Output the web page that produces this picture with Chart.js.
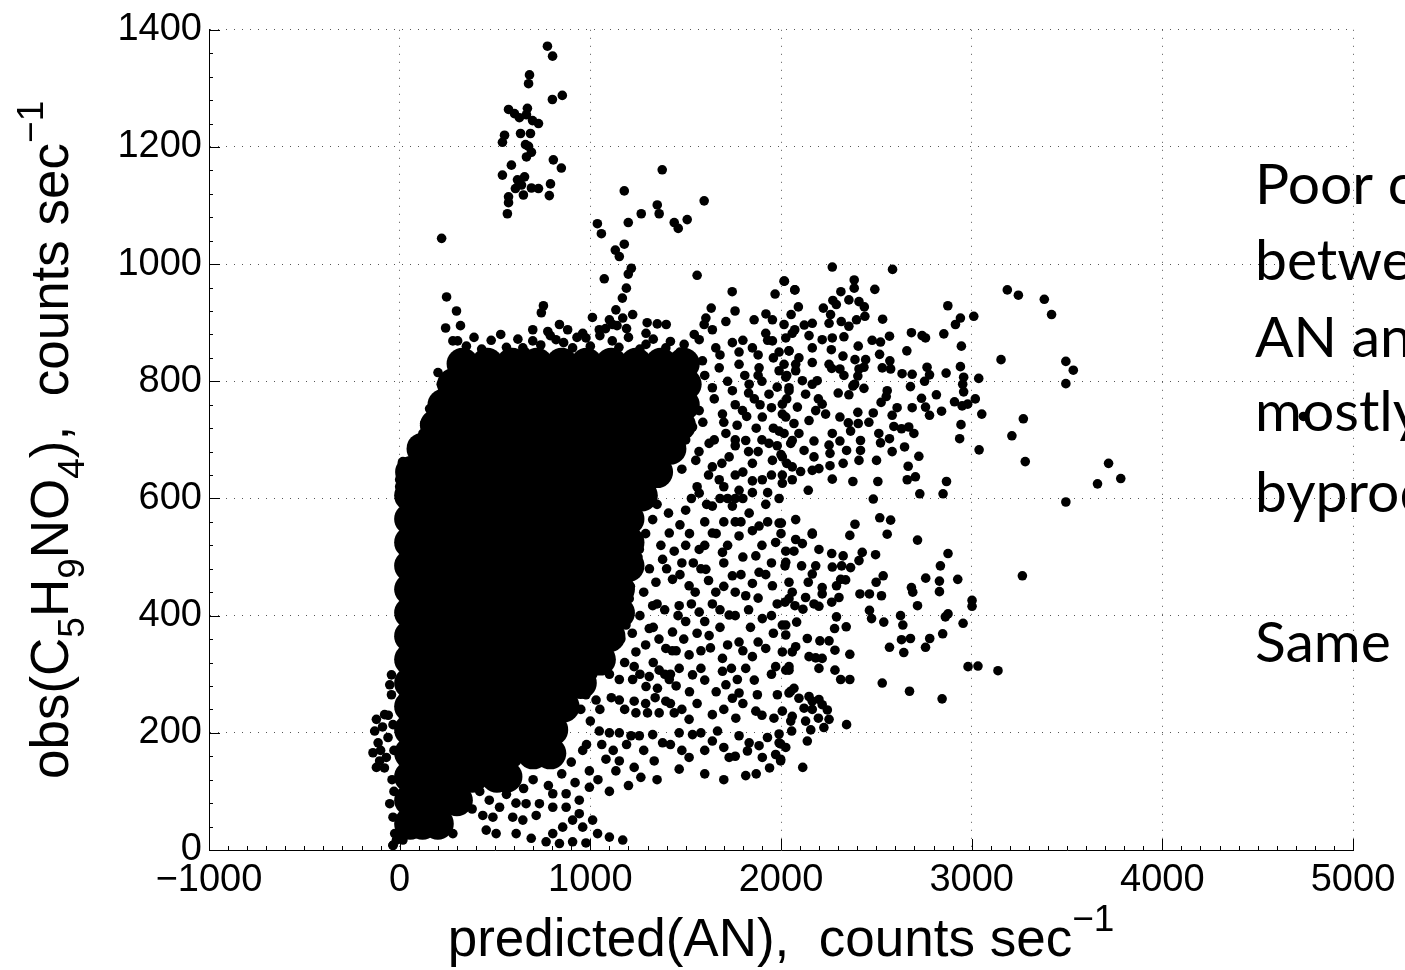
<!DOCTYPE html>
<html>
<head>
<meta charset="utf-8">
<script src="https://cdn.jsdelivr.net/npm/chart.js@4.4.1/dist/chart.umd.min.js"></script>
<style>
  html, body { margin: 0; padding: 0; background: #fff; overflow: hidden; }
  canvas { display: block; }
</style>
</head>
<body>
<canvas id="scatter" width="1405" height="970"></canvas>
<script>
// axis ticks
const xTicks = [-1000, 0, 1000, 2000, 3000, 4000, 5000];
const yTicks = [0, 200, 400, 600, 800, 1000, 1200, 1400];

// the solid black core, read row by row (obs level -> predicted values along it)
const coreLevels = [830, 795, 760, 725, 685, 645, 605, 565, 525, 485, 445, 405, 365, 325, 285, 245, 205, 165, 125, 85, 45];
const coreX = [
  [330, 460, 590, 720, 850, 980, 1110, 1240, 1370, 1490],
  [280, 410, 540, 670, 800, 930, 1060, 1190, 1320, 1450, 1500],
  [230, 360, 490, 620, 750, 880, 1010, 1140, 1270, 1400, 1490],
  [190, 300, 430, 560, 690, 820, 950, 1080, 1210, 1340, 1470],
  [120, 250, 380, 510, 640, 770, 900, 1030, 1160, 1290, 1420],
  [60, 180, 310, 440, 570, 700, 830, 960, 1090, 1220, 1350],
  [55, 130, 260, 390, 520, 650, 780, 910, 1040, 1170, 1270],
  [55, 180, 310, 440, 570, 700, 830, 960, 1090, 1200],
  [55, 120, 250, 380, 510, 640, 770, 900, 1030, 1160, 1200],
  [55, 180, 310, 440, 570, 700, 830, 960, 1090, 1200],
  [55, 120, 250, 380, 510, 640, 770, 900, 1030, 1150],
  [55, 180, 310, 440, 570, 700, 830, 960, 1090, 1150],
  [55, 120, 250, 380, 510, 640, 770, 900, 1030, 1100],
  [55, 180, 310, 440, 570, 700, 830, 960, 1050],
  [55, 120, 250, 380, 510, 640, 770, 900, 950],
  [55, 180, 310, 440, 570, 700, 830, 860],
  [55, 120, 250, 380, 510, 640, 770, 800],
  [55, 180, 310, 440, 570, 700, 790],
  [55, 120, 250, 380, 510, 560],
  [55, 180, 300],
  [55, 120, 200]
];

// group of high observations above 1000
const highGroup = [[775,1372],[802,1355],[681,1323],[676,1308],[801,1281],[853,1288],[571,1264],[602,1257],[628,1250],[670,1266],[665,1255],[697,1245],[728,1240],[550,1220],[539,1208],[634,1223],[686,1223],[660,1204],[676,1201],[691,1191],[665,1183],[806,1178],[848,1164],[586,1169],[539,1152],[618,1144],[655,1149],[639,1135],[607,1129],[691,1130],[728,1129],[649,1118],[791,1137],[785,1117],[571,1115],[571,1105],[565,1086],[220,1044]];

// strays above the core and its ragged edges
const upperStray = [[1377,1161],[1178,1125],[1597,1108],[1351,1101],[1361,1086],[1267,1086],[1199,1071],[1037,1069],[1058,1052],[1440,1071],[1461,1061],[1508,1076],[1178,1034],[1131,1024],[1152,1013],[1215,993],[1199,983],[1073,975],[1560,981],[1744,953],[2016,971],[2073,956],[1969,949],[1634,925],[1759,920],[1189,959],[1168,942],[246,944],[298,920],[241,891],[319,895],[754,929],[743,917],[838,897],[1011,909],[1298,900],[1351,898],[1398,897],[1859,905],[1921,915],[698,888],[777,885],[881,888],[960,882],[1047,888],[1117,897],[1170,908],[1134,922],[1222,914],[1292,882],[1545,880],[1597,897],[1640,888],[1920,882],[2016,897],[2059,882],[1606,908],[1711,902],[1955,905],[1100,905],[1140,895],[1190,890],[1080,890],[279,869],[304,869],[402,838],[515,835],[602,826],[646,857],[698,869],[820,871],[907,857],[977,874],[1115,869],[1292,863],[1396,857],[201,815],[218,795],[157,753],[131,728],[122,711],[87,682],[17,663],[61,648],[0,632],[14,661],[52,646],[17,637],[0,620],
  [350,860],[390,875],[430,855],[480,870],[530,880],[560,858],[620,872],[660,850],[740,862],[790,878],[860,866],[930,875],[1000,860],[1050,878],[1150,858],[1200,875],[1260,855],[1330,872],[1420,868],[1470,850]];

// upper arm, 600-1000 obs
const upperArm = [[1492,863],[1571,871],[1658,857],[1745,866],[1850,857],[1955,869],[2042,852],[1588,835],[1676,823],[1780,829],[1885,823],[1990,818],[2077,829],[1536,795],[1640,789],[1745,784],[1833,795],[1937,778],[2042,789],[1571,750],[1693,744],[1798,750],[1902,739],[2007,744],[1711,711],[1815,699],[1937,694],[2059,699],[1623,694],[1728,671],[1850,660],[1955,665],[1640,654],[1902,632],[2007,626],[1676,632],[1780,614],[1536,722],[1553,665],[1800,870],[1880,845],[1960,840],[1810,810],[1900,800],[1980,790],[1760,760],[1860,770],[1950,755],[1770,725],[1870,720],[1990,715],[1760,690],[1880,680],[2000,675],[1800,645],[1950,640],[1720,600],[1850,610],
  [1520,840],[1600,810],[1680,845],[1720,800],[1780,850],[1830,780],[1880,810],[1930,870],[1990,850],[2030,810],[1520,770],[1590,730],[1650,770],[1700,730],[1760,700],[1820,740],[1890,760],[1960,720],[2030,770],[1500,700],[1570,680],[1650,700],[1690,660],[1760,640],[1830,680],[1900,700],[1980,690],[2030,660],[1480,650],[1560,620],[1620,640],[1700,620],[1760,600],[1850,630],[1930,610],[1990,600],
  [2269,995],[2585,991],[2018,971],[2072,956],[2384,973],[2384,959],[2314,953],[2492,957],[2356,939],[2409,936],[2437,927],[2272,938],[2290,931],[2222,925],[2260,914],[2316,902],[2356,894],[2396,905],[2440,911],[2533,906],[2091,927],[2053,914],[2164,899],[2122,896],[2252,899],[2072,888],[2147,878],[2216,871],[2269,874],[2330,876],[2264,854],[2405,860],[2478,870],[2522,867],[2569,877],[2517,846],[2684,883],[2740,878],[2758,874],[2660,852],[2854,881],[2875,929],[2941,908],[2915,897],[3011,911],[2946,860],[2941,825],[2958,807],[2953,795],[3037,805],[3019,770],[2958,782],[2950,758],[2979,761],[2910,765],[3053,744],[2944,726],[2937,702],[3039,683],[3187,956],[3245,947],[3381,940],[3419,914],[3154,837],[3494,834],[3533,819],[3494,796],[3271,736],[3211,707],[3281,663],[3718,660],[3660,625],[3782,634],[3494,594],
  [2635,813],[2688,812],[2766,824],[2779,811],[2753,800],[2866,814],[2679,791],[2815,777],[2737,771],[2688,755],[2758,756],[2779,742],[2842,749],[2571,835],[2575,821],[2531,823],[2557,784],[2552,774],[2609,755],[2583,742],[2525,764],[2484,746],[2403,747],[2405,728],[2461,730],[2513,711],[2522,695],[2569,702],[2583,680],[2592,723],[2632,719],[2670,722],[2697,711],[2648,688],[2723,672],[2667,655],[2662,632],[2705,637],[2728,608],[2850,608],[2868,629],[2508,629],[2484,599],[2377,629],[2269,633],[2409,665],[2501,665],[2417,682],[2417,699],[2344,682],[2309,698],[2252,691],[2257,677],[2257,656],[2326,660],[2173,698],[2269,711],[2309,739],[2353,729],[2365,715],[2300,780],[2356,777],[2386,795],[2435,788],[2234,744],[2182,750],[2216,761],[2196,770],[2164,795],[2190,801],[2164,832],[2094,840],[2252,829],[2266,822],[2325,843],[2309,821],[2330,810],[2388,837],[2444,837],[2409,821],[2435,824],[2403,809],[2377,792],[2068,728],[2094,711],[2173,671],[2059,654],[2103,646],[2164,648],[2199,651],[2007,640],[2059,632],[2143,614],
  [2025,874],[2042,852],[2016,829],[2077,818],[2025,807],[2112,801],[2042,784],[2129,778],[2007,761],[2086,756],[2025,739],[2147,733],[2016,711],[2051,694],[2121,682],[2007,671],[2164,857]];

// lower arm, 100-600 obs
const lowerArm = [[2002,558],[2388,556],[2518,567],[2575,563],[2164,541],
  [2164,539],[2361,537],[2557,539],[2716,529],[2112,523],[2025,510],[2068,510],[2199,513],[2266,506],[2326,502],[2426,508],[2409,494],[2496,504],[2876,506],[2836,485],[2759,464],[2831,459],[2831,441],[2927,462],[3266,468],[3002,426],[3002,416],[2716,417],[2684,448],[2691,440],[2536,468],[2499,457],[2527,434],[2414,437],[2464,437],[2108,485],[2021,485],[2182,485],[2269,483],[2318,485],[2365,482],[2164,471],[2143,457],[2042,457],[2313,462],[2339,461],[2291,451],[2216,448],[2216,437],[2059,440],[2129,431],[2021,423],[2073,417],[2173,420],[2199,416],[2115,411],[2266,423],[2304,431],[2291,398],[2464,409],[2475,395],[2539,389],[2627,400],[2639,384],[2876,403],[2862,398],[2955,387],[2848,369],[2780,361],[2758,346],[2679,361],[2632,359],[2644,337],[2569,346],[2361,334],[2342,381],[2281,378],[2283,341],[2252,357],[2204,357],[2138,361],[2077,347],[2007,338],[2025,367],[2082,389],[2007,384],[2147,330],[2182,328],[2216,327],[2199,310],[2283,307],[2313,291],[2361,291],[2042,313],[2025,307],[2531,285],[2674,271],[2845,258],[2981,313],[3033,314],[3138,306],[2051,271],[2068,276],[2094,259],[2147,262],[2164,254],[2199,257],[2121,242],[2164,240],[2216,248],[2243,239],[2252,223],[2196,225],[2225,209],[2129,220],[2051,220],[2056,203],[2156,205],[2344,214],[2007,237],[2138,186],[1998,181],[2025,175],[1998,152],[2114,141],[1990,198],
  [1571,609],[1640,587],[1745,587],[1833,575],[1885,553],[1990,558],[2077,564],[1640,541],[1780,536],[1972,525],[2077,530],[1571,513],[1693,508],[1868,502],[2025,491],[1606,479],[1745,468],[1885,474],[1955,451],[1518,451],[1658,440],[1815,434],[2042,429],[1466,417],[1571,406],[1728,401],[1902,395],[2025,384],[1431,372],[1623,366],[1780,355],[1920,344],[2059,338],[1518,333],[1693,327],[1500,580],[1600,560],[1700,560],[1800,600],[1920,590],[1500,520],[1580,480],[1700,490],[1800,500],[1950,490],[1480,490],[1550,440],[1640,420],[1760,440],[1880,430],[1980,420],[1500,390],[1680,380],[1840,380],[1960,370],[1450,340],[1580,340],[1850,330],[1420,300],
  [1117,570],[1222,587],[1327,564],[1414,541],[1152,530],[1257,513],[1379,496],[1117,485],[1239,474],[1344,457],[1431,462],[1100,440],[1204,429],[1327,417],[1082,401],[1187,384],[1309,378],[1396,344],[1117,350],[1239,338],[1012,327],
  [1230,560],[1290,540],[1350,590],[1410,575],[1470,555],[1530,600],[1610,590],[1680,600],[1760,560],[1850,545],[1930,560],[1250,500],[1310,480],[1370,520],[1440,510],[1520,540],[1600,520],[1660,540],[1720,520],[1790,560],[1900,520],[2000,540],[1210,450],[1280,440],[1350,420],[1400,480],[1470,470],[1540,490],[1620,460],[1700,450],[1790,470],[1850,455],[1920,470],[1190,400],[1260,400],[1330,380],[1390,410],[1460,400],[1530,420],[1600,390],[1680,410],[1760,400],[1830,410],[1950,400],[1160,360],[1220,370],[1290,350],[1360,360],[1430,340],[1490,360],[1560,370],[1630,345],[1720,350],[1800,340],[1880,355],[1100,300],[1180,320],[1260,300],[1330,320],[1390,300],[1450,280],[1520,270],[1600,290],[1660,270],[1740,310],[1860,290],[1950,300],[1050,240],[1110,260],[1180,240],[1290,250],[1340,260],[1420,250],[1480,240],[1560,250],[1700,240],[1800,250],[1900,230],[1060,180],[1120,170],[1190,180],[1280,170],[1420,180],[1480,170],[1600,170],[1700,175],[1760,160],[1940,140],[1040,120],[1100,100],[1200,110],[1350,120],[1600,130],[1870,130],[1700,120],
  [1012,299],[1082,310],[1152,291],[1230,313],[1222,291],[1309,296],[1361,307],[1414,291],[1466,310],[1536,299],[1580,310],[1693,305],[1771,291],[1815,310],[1972,313],[2042,307],[977,265],[1030,256],[1152,256],[1230,254],[1292,279],[1352,276],[1239,234],[1300,234],[1361,234],[1440,234],[1396,254],[1518,223],[1640,231],[1711,282],[1745,259],[1780,268],[1876,265],[1981,265],[2042,268],[1868,237],[1763,225],[1963,225],[2059,228],[1047,203],[1100,200],[1152,200],[1213,195],[1257,195],[1327,197],[1379,183],[1466,200],[1536,197],[1580,200],[1640,186],[1667,203],[1780,195],[1833,183],[1885,178],[1929,192],[1990,183],[1728,158],[1824,169],[1902,158],[1972,163],[1998,155],[1518,158],[1082,155],[1152,152],[1134,135],[1230,141],[1265,124],[1466,138],[1815,127],[1335,152],[995,135],[995,107],[950,240],[1000,220],[980,180]];

// low readings near the x axis
const bottomEdge = [[1012,51],[1170,17],[1100,22],[1038,28],[960,39],[942,62],[873,73],[803,73],[716,59],[663,79],[593,56],[524,73],[489,56],[436,59],[454,34],[506,28],[611,28],[690,20],[768,14],[838,11],[907,14],[977,12],[803,28],[855,39],[907,51],[279,28],[209,31],[140,34],[70,39],[-17,17],[-35,8],[0,28],[803,96],[733,79],[873,96],[942,85],[646,51],[700,120],[780,110],[850,130],[920,115],[740,150],[900,150],[960,170],
  [340,90],[380,70],[420,100],[470,85],[560,95],[610,80],[650,105],[600,120],[520,110]];

// slightly negative predictions
const leftEdge = [[-122,223],[-79,231],[-131,203],[-113,183],[-140,166],[-105,152],[-122,141],[-61,192],[-70,158],[-35,214],[-52,79],[-35,56],[-26,28],[-35,8],[17,17],[-43,299],[-52,282],[-43,265],[-90,210],[-100,170],[-80,140],[-60,230],[-30,170],[-40,120],[-30,100]];

// one point shows through the slide text
const underText = [[4740,740]];

const noteLines = ['Poor correlation', 'between', 'AN and', 'mostly', 'byproduct', '', 'Same'];

//------------------------------------------

const corePts = [];
coreLevels.forEach((lvl, i) => coreX[i].forEach(v => corePts.push({x: v, y: lvl})));

const toPts = arr => arr.map(p => ({x: p[0], y: p[1]}));
const strayPts = [].concat(toPts(highGroup), toPts(upperStray), toPts(upperArm), toPts(lowerArm), toPts(bottomEdge), toPts(leftEdge), toPts(underText));

const tickFont = {family: "'Liberation Sans', Arial, Helvetica, sans-serif", size: 38};
const titleFamily = "'Liberation Sans', Arial, Helvetica, sans-serif";

// draws text with sub/superscripts, centred on cx along its baseline
function drawRich(ctx, runs, size, cx, base) {
  const small = Math.round(size * 0.7);
  let total = 0;
  runs.forEach(r => {
    ctx.font = (r[1] ? small : size) + 'px ' + titleFamily;
    total += ctx.measureText(r[0]).width;
  });
  let x = cx - total / 2;
  runs.forEach(r => {
    ctx.font = (r[1] ? small : size) + 'px ' + titleFamily;
    let dy = 0;
    if (r[1] === 1) dy = size * 0.3;
    if (r[1] === 2) dy = -size * 0.47;
    ctx.fillText(r[0], x, base + dy);
    x += ctx.measureText(r[0]).width;
  });
}

// inward major and minor ticks like matlab
const axisDecor = {
  id: 'axisDecor',
  afterDatasetsDraw(chart) {
    const {ctx, chartArea: a, scales: {x, y}} = chart;
    ctx.save();
    ctx.strokeStyle = '#000';
    ctx.lineWidth = 1;
    ctx.beginPath();
    for (let v = -1000; v <= 5000; v += 100) {
      const px = Math.round(x.getPixelForValue(v)) + 0.5;
      const len = v % 1000 === 0 ? 11 : 4;
      ctx.moveTo(px, a.bottom);
      ctx.lineTo(px, a.bottom - len);
    }
    for (let v = 0; v <= 1400; v += 40) {
      const py = Math.round(y.getPixelForValue(v)) + 0.5;
      const len = v % 200 === 0 ? 11 : 4;
      ctx.moveTo(a.left, py);
      ctx.lineTo(a.left + len, py);
    }
    ctx.stroke();
    ctx.restore();
  }
};

// axis titles and the slide note on the right
const labels = {
  id: 'labels',
  afterDraw(chart) {
    const {ctx, chartArea: a} = chart;
    ctx.save();
    ctx.fillStyle = '#000';
    ctx.textBaseline = 'alphabetic';
    ctx.textAlign = 'left';
    drawRich(ctx, [['predicted(AN),  counts sec', 0], ['\u22121', 2]], 53, (a.left + a.right) / 2, 956);

    ctx.save();
    ctx.translate(68, (a.top + a.bottom) / 2);
    ctx.rotate(-Math.PI / 2);
    drawRich(ctx, [['obs(C', 0], ['5', 1], ['H', 0], ['9', 1], ['NO', 0], ['4', 1], ['),  counts sec', 0], ['\u22121', 2]], 53, 0, 0);
    ctx.restore();

    ctx.font = "57px Lato, 'Open Sans', sans-serif";
    const bases = [204, 280, 357, 431, 512, 587, 662];
    noteLines.forEach((t, i) => ctx.fillText(t, 1255, bases[i]));
    ctx.restore();
  }
};

const config = {
  type: 'scatter',
  data: {
    datasets: [
      {label: 'core', data: corePts, pointRadius: 16, pointHoverRadius: 16, backgroundColor: '#000', borderWidth: 0},
      {label: 'obs', data: strayPts, pointRadius: 4.8, pointHoverRadius: 4.8, backgroundColor: '#000', borderWidth: 0}
    ]
  },
  options: {
    responsive: false,
    animation: false,
    devicePixelRatio: 1,
    events: [],
    layout: {padding: {left: 0, right: 52, top: 23, bottom: 0}},
    plugins: {legend: {display: false}, tooltip: {enabled: false}},
    scales: {
      x: {
        type: 'linear', position: 'bottom', min: -1000, max: 5000,
        afterFit(s) { s.height = 120; },
        afterBuildTicks(s) { s.ticks = xTicks.map(v => ({value: v})); },
        ticks: {font: tickFont, color: '#000', padding: 8, maxRotation: 0, autoSkip: false,
                callback: v => String(v).replace('-', '\u2212')},
        grid: {color: '#555', lineWidth: 1, drawTicks: false},
        border: {display: true, color: '#000', width: 1, dash: [1, 7]}
      },
      y: {
        type: 'linear', position: 'left', min: 0, max: 1400,
        afterFit(s) { s.width = 209; },
        afterBuildTicks(s) { s.ticks = yTicks.map(v => ({value: v})); },
        ticks: {font: tickFont, color: '#000', padding: 7, autoSkip: false, callback: v => String(v)},
        grid: {color: '#555', lineWidth: 1, drawTicks: false},
        border: {display: true, color: '#000', width: 1, dash: [1, 7]}
      }
    }
  },
  plugins: [axisDecor, labels]
};

const scatterChart = new Chart(document.getElementById('scatter'), config);
</script>
</body>
</html>
